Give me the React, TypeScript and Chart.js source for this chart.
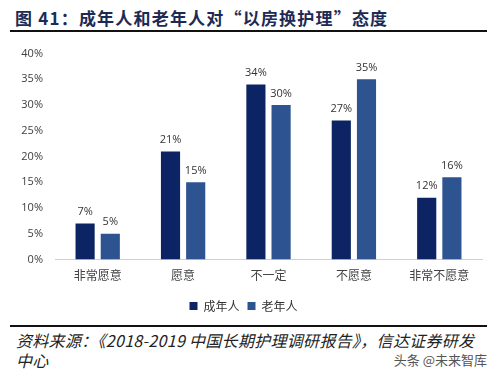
import React, { useEffect, useRef } from "react";
import { Chart, registerables } from "chart.js";

Chart.register(...registerables);

const categories = ["非常愿意", "愿意", "不一定", "不愿意", "非常不愿意"];
const adults = [7, 21, 34, 27, 12];
const elders = [5, 15, 30, 35, 16];
const seriesNames = ["成年人", "老年人"];
const yTicks = [0, 5, 10, 15, 20, 25, 30, 35, 40];

const CJK = '"Noto Sans CJK SC", "Noto Sans", sans-serif';

const valueLabels = {
  id: "valueLabels",
  afterDatasetsDraw(chart: any) {
    const ctx = chart.ctx;
    ctx.save();
    ctx.font = '11px "Open Sans", "Noto Sans", sans-serif';
    ctx.fillStyle = "#333333";
    ctx.textAlign = "center";
    ctx.textBaseline = "bottom";
    chart.data.datasets.forEach((ds: any, i: number) => {
      const meta = chart.getDatasetMeta(i);
      meta.data.forEach((bar: any, j: number) => {
        ctx.fillText(ds.data[j] + "%", bar.x, bar.y - 6);
      });
    });
    ctx.restore();
  },
};

function BarChart() {
  const ref = useRef<HTMLCanvasElement>(null);
  useEffect(() => {
    const chart = new Chart(ref.current!, {
      type: "bar",
      data: {
        labels: categories,
        datasets: [
          {
            label: seriesNames[0],
            data: adults,
            backgroundColor: "#0c2463",
            categoryPercentage: 0.59,
            barPercentage: 0.76,
          },
          {
            label: seriesNames[1],
            data: elders,
            backgroundColor: "#2e5391",
            categoryPercentage: 0.59,
            barPercentage: 0.76,
          },
        ],
      },
      options: {
        responsive: false,
        animation: false,
        layout: { padding: { left: 5, right: 17, top: 13, bottom: 0 } },
        plugins: {
          tooltip: { enabled: false },
          legend: {
            position: "bottom",
            labels: {
              boxWidth: 8,
              boxHeight: 8,
              padding: 8,
              color: "#333333",
              font: { family: CJK, size: 12 },
            },
          },
        },
        scales: {
          x: {
            grid: { display: false, drawTicks: false },
            border: { display: true, color: "#d0d0d0" },
            ticks: {
              color: "#404040",
              font: { family: CJK, size: 12 },
              padding: 9,
            },
          },
          y: {
            min: 0,
            max: 40,
            afterFit(scale: any) {
              scale.width = 50;
            },
            afterBuildTicks(scale: any) {
              scale.ticks = yTicks.map((v) => ({ value: v }));
            },
            grid: { display: false, drawTicks: false },
            border: { display: false },
            ticks: {
              padding: 12,
              color: "#404040",
              font: { family: '"Open Sans", "Noto Sans", sans-serif', size: 11 },
              callback: (v: any) => v + "%",
            },
          },
        },
      },
      plugins: [valueLabels],
    });
    return () => chart.destroy();
  }, []);
  return <canvas ref={ref} width={499} height={287} style={{ display: "block" }} />;
}

export default function App() {
  return (
    <div
      style={{
        position: "fixed",
        left: 0,
        top: 0,
        width: 499,
        height: 375,
        background: "#ffffff",
        overflow: "hidden",
        fontFamily: CJK,
      }}
    >
      <div
        style={{
          position: "absolute",
          left: 15,
          top: 6,
          fontSize: 17,
          fontWeight: "bold",
          letterSpacing: 1.2,
          color: "#1c2b55",
          whiteSpace: "nowrap",
          lineHeight: "24px",
        }}
      >
        图 41：成年人和老年人对“以房换护理”态度
      </div>
      <div style={{ position: "absolute", left: 10, top: 30, width: 477, height: 2, background: "#111" }} />
      <div style={{ position: "absolute", left: 0, top: 35 }}>
        <BarChart />
      </div>
      <div style={{ position: "absolute", left: 10, top: 325, width: 477, height: 2, background: "#111" }} />
      <div
        style={{
          position: "absolute",
          left: 16,
          top: 330,
          fontSize: 16,
          fontStyle: "italic",
          letterSpacing: 0.3,
          color: "#222",
          lineHeight: "20px",
          whiteSpace: "nowrap",
        }}
      >
        资料来源：《2018-2019 中国长期护理调研报告》，信达证券研发
        <br />
        中心
      </div>
      <div
        style={{
          position: "absolute",
          right: 12,
          top: 351,
          fontSize: 13,
          color: "#555",
          whiteSpace: "nowrap",
          lineHeight: "18px",
        }}
      >
        头条 @未来智库
      </div>
    </div>
  );
}
